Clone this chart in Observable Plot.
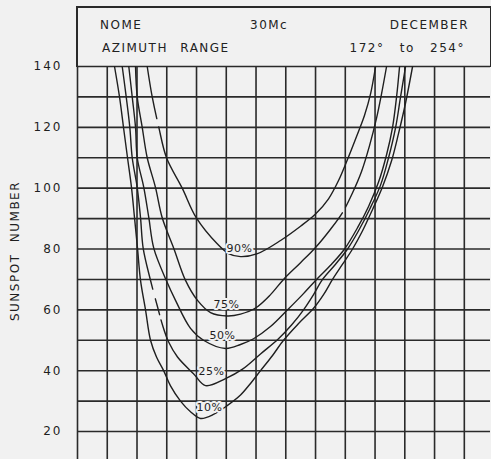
<!DOCTYPE html>
<html><head><meta charset="utf-8">
<script src="https://cdn.jsdelivr.net/npm/d3@7"></script>
<script src="https://cdn.jsdelivr.net/npm/@observablehq/plot@0.6"></script>
<style>
html,body{margin:0;padding:0;background:#f1f1f1;}
#wrap{position:relative;width:491px;height:459px;overflow:hidden;background:#f1f1f1;}
#chart{position:absolute;left:0;top:0;}
#box{position:absolute;left:76px;top:6px;width:416px;height:61px;box-sizing:border-box;border:2px solid #2a2a2a;border-bottom:none;}
.h{position:absolute;font-family:"DejaVu Sans";font-size:12px;line-height:12px;letter-spacing:1.5px;color:#222;white-space:pre;}
</style></head><body>
<div id="wrap">
  <div id="chart"></div>
  <div id="box"></div>
  <span class="h" style="left:100px;top:19px;">NOME</span>
  <span class="h" style="left:250px;top:19px;">30Mc</span>
  <span class="h" style="right:22px;top:19px;">DECEMBER</span>
  <span class="h" style="left:102px;top:42px;word-spacing:7px;">AZIMUTH RANGE</span>
  <span class="h" style="right:26px;top:42px;word-spacing:10px;">172° to 254°</span>
</div>
<script>
// y-axis ticks and grid
const yTickLabels = [20, 40, 60, 80, 100, 120, 140];
const yGrid = [20, 30, 40, 50, 60, 70, 80, 90, 100, 110, 120, 130, 140];
const xGrid = [0, 1, 2, 3, 4, 5, 6, 7, 8, 9, 10, 11, 12, 13];

// curves (x in grid-column units, y = sunspot number)
const x10 = [1.244,1.412,1.546,1.681,1.815,1.916,2.017,2.118,2.286,2.454,2.655,2.891,3.126,3.462,3.798,4.134,4.571,5.042,5.479,5.815,6.151,6.555,6.924,7.429,7.933,8.269,8.571,8.908,9.244,9.580,9.916,10.252,10.555,10.790,11.025,11.261];
const y10 = [140,130,120,110,100.2,90.3,80.2,69.7,60,50,44.5,40.1,35,30,26.5,24.3,25.6,28.6,32,35.8,40,45,50,55.5,60.5,65,70,75,80,86,93,100.5,109,118,128,140];

const x25 = [1.503,1.637,1.758,1.839,2.007,2.118,2.208,2.454,2.689,2.857,3.059,3.361,3.899,4.303,4.975,5.546,6.151,6.756,7.193,7.597,7.933,8.235,8.672,9.076,9.445,9.815,10.185,10.454,10.692,10.857,11.025];
const y25 = [140,130,120,110,100.2,90.3,80.2,69.7,61,55,49.5,44.5,39,35.1,37.4,40.5,45.5,50.5,55,60,65,70,75,80,86,93,101,110,120,130,140];

const x50 = [1.724,1.839,1.950,2.007,2.229,2.397,2.565,2.982,3.294,3.798,4.235,4.975,5.479,5.916,6.487,7.059,7.563,8.034,8.538,8.975,9.412,9.782,10.118,10.387,10.588,10.723,10.824];
const y50 = [140,130,120,110,100.2,90.3,80.2,69.7,63.1,53.9,50,47.3,48.6,50.5,54.5,60,65,70,75,80,87,94,102,111,120,130,140];

const x75 = [1.950,2.007,2.175,2.343,2.622,2.847,3.237,3.630,4.034,4.471,5.042,5.479,5.983,6.487,6.924,7.496,8.000,8.504,8.908,9.244,9.546,9.815,10.050,10.218,10.387];
const y75 = [140,130,120,110,100.2,90.3,80.2,69.7,63.1,59.1,58,58.6,60.6,65,70,75.5,80.5,86.5,92,98.5,105.5,114,123,131,140];

const x90 = [2.343,2.511,2.733,2.992,3.519,3.990,4.696,5.076,5.479,6.050,6.824,7.496,8.000,8.437,8.773,9.076,9.378,9.647,9.849,10.017];
const y90 = [140,130,120,110,100,90.3,81.7,78.5,77.5,78.5,82.8,87.5,91.5,96.5,102.5,109.5,117,124,131,140];

const curveNames = ["10%", "25%", "50%", "75%", "90%"];
const curveX = [x10, x25, x50, x75, x90];
const curveY = [y10, y25, y50, y75, y90];

// breaks in the drawn curves: [curve, branch, from value, to value]
const breakCurve = ["25%", "25%", "90%", "75%"];
const breakSide = ["left", "left", "left", "right"];
const breakFrom = [67.0, 58.5, 122.9, 93.6];
const breakTo = [63.7, 56.8, 120.3, 91.7];

// curve labels
const labelText = ["10%", "25%", "50%", "75%", "90%"];
const labelX = [4.437, 4.504, 4.874, 5.008, 5.445];
const labelY = [27.9, 39.7, 51.6, 61.8, 80.2];

const pts = [];
curveNames.forEach((n, i) => curveX[i].forEach((x, j) => pts.push({p: n, x, y: curveY[i][j]})));
const labels = labelText.map((t, i) => ({t, x: labelX[i], y: labelY[i]}));

const ink = "#1f1f1f";
const bg = "#f1f1f1";

const chart = Plot.plot({
  width: 491, height: 459,
  marginTop: 66, marginBottom: 0, marginLeft: 77, marginRight: 1,
  x: {domain: [0, 13.88], axis: null},
  y: {domain: [10.8, 140], axis: null},
  style: {background: "transparent", fontFamily: "DejaVu Sans", color: ink},
  marks: [
    Plot.ruleX(xGrid, {stroke: "#2a2a2a", strokeWidth: 1.6}),
    Plot.ruleY(yGrid, {stroke: "#2a2a2a", strokeWidth: 1.6}),
    Plot.line(pts, {x: "x", y: "y", z: "p", curve: "catmull-rom", stroke: ink, strokeWidth: 1.4, clip: true}),
    Plot.text(labels, {x: "x", y: "y", text: "t", fontSize: 11, fill: ink, stroke: bg, strokeWidth: 4}),
    Plot.axisY({ticks: yTickLabels, tickSize: 0, tickPadding: 15, fontSize: 12, label: null}),
    Plot.text(["SUNSPOT NUMBER"], {frameAnchor: "left", textAnchor: "middle", dx: -62, dy: -12, rotate: -90, fontSize: 12, fill: ink})
  ]
});
document.getElementById("chart").appendChild(chart);
const svg = d3.select(chart);
svg.selectAll("g[aria-label='y-axis tick label'] text").style("letter-spacing", "2px");
svg.selectAll("text").filter(function(){ return this.textContent === "SUNSPOT NUMBER"; }).style("letter-spacing", "1.5px").style("word-spacing", "6px");
svg.selectAll("text").filter(function(){ return /%$/.test(this.textContent); }).style("letter-spacing", "0.5px");

// apply the breaks as dash patterns along each curve path
const yScale = chart.scale("y");
const paths = svg.selectAll("g[aria-label='line'] path").nodes();
curveNames.forEach((name, ci) => {
  const path = paths[ci];
  if (!path) return;
  const L = path.getTotalLength();
  const n = Math.ceil(L * 2);
  const samp = d3.range(n + 1).map(k => path.getPointAtLength(L * k / n).y);
  const split = d3.maxIndex(samp);
  const lenAt = (v, side) => {
    const py = yScale.apply(v);
    if (side === "left") { for (let k = 0; k <= split; ++k) if (samp[k] >= py) return L * k / n; return L * split / n; }
    for (let k = split; k <= n; ++k) if (samp[k] <= py) return L * k / n; return L;
  };
  const gaps = [];
  breakCurve.forEach((c, bi) => {
    if (c !== name) return;
    const a = lenAt(breakFrom[bi], breakSide[bi]), b = lenAt(breakTo[bi], breakSide[bi]);
    gaps.push([Math.min(a, b), Math.max(a, b)]);
  });
  if (!gaps.length) return;
  gaps.sort((p, q) => p[0] - q[0]);
  const arr = []; let prev = 0;
  gaps.forEach(([a, b]) => { arr.push(Math.max(0, a - prev), b - a); prev = b; });
  arr.push(L - prev + 2, 0);
  path.setAttribute("stroke-dasharray", arr.map(d => d.toFixed(2)).join(" "));
});
</script>
</body></html>
